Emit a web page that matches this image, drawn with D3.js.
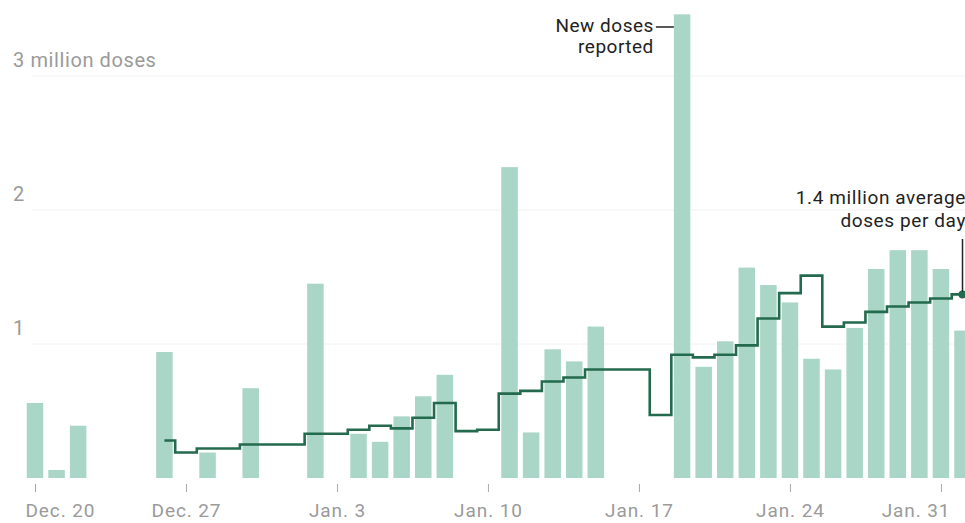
<!DOCTYPE html>
<html>
<head>
<meta charset="utf-8">
<script src="https://cdn.jsdelivr.net/npm/d3@7"></script>
<style>
  body { margin: 0; background: #fff; }
  svg { display: block; font-family: Roboto, "Noto Sans", sans-serif; }
</style>
</head>
<body>
<svg id="chart" width="965" height="523"></svg>
<script>
// daily dates shown on the chart
const days = [
  "2020-12-20", "2020-12-21", "2020-12-22", "2020-12-23", "2020-12-24", "2020-12-25", "2020-12-26",
  "2020-12-27", "2020-12-28", "2020-12-29", "2020-12-30", "2020-12-31", "2021-01-01", "2021-01-02",
  "2021-01-03", "2021-01-04", "2021-01-05", "2021-01-06", "2021-01-07", "2021-01-08", "2021-01-09",
  "2021-01-10", "2021-01-11", "2021-01-12", "2021-01-13", "2021-01-14", "2021-01-15", "2021-01-16",
  "2021-01-17", "2021-01-18", "2021-01-19", "2021-01-20", "2021-01-21", "2021-01-22", "2021-01-23",
  "2021-01-24", "2021-01-25", "2021-01-26", "2021-01-27", "2021-01-28", "2021-01-29", "2021-01-30",
  "2021-01-31", "2021-02-01"
];

// new doses reported each day, millions (null = nothing reported)
const newDoses = [
  0.56, 0.06, 0.39, null, null, null, 0.94,
  null, 0.19, null, 0.67, null, null, 1.45,
  null, 0.33, 0.27, 0.46, 0.61, 0.77, null,
  null, 2.32, 0.34, 0.96, 0.87, 1.13, null,
  null, null, 3.46, 0.83, 1.02, 1.57, 1.44,
  1.31, 0.89, 0.81, 1.12, 1.56, 1.70, 1.70,
  1.56, 1.10
];

// seven-day average, millions (starts Dec. 26)
const avgDoses = [
  null, null, null, null, null, null, 0.28,
  0.19, 0.22, 0.22, 0.25, 0.25, 0.25, 0.33,
  0.33, 0.36, 0.39, 0.37, 0.45, 0.56, 0.35,
  0.36, 0.63, 0.65, 0.72, 0.75, 0.81, 0.81,
  0.81, 0.47, 0.92, 0.90, 0.92, 0.99, 1.19,
  1.38, 1.51, 1.13, 1.16, 1.24, 1.28, 1.31,
  1.34, 1.37
];

// axis ticks
const tickDays = ["2020-12-20", "2020-12-27", "2021-01-03", "2021-01-10", "2021-01-17", "2021-01-24", "2021-01-31"];
const tickLabels = ["Dec. 20", "Dec. 27", "Jan. 3", "Jan. 10", "Jan. 17", "Jan. 24", "Jan. 31"];
const yTicks = [1, 2, 3];
const yTickLabels = ["1", "2", "3 million doses"];

const parse = d3.timeParse("%Y-%m-%d");
const data = days.map((d, i) => ({ date: parse(d), value: newDoses[i], avg: avgDoses[i] }));

const svg = d3.select("#chart");

// scales
const x = d3.scaleTime().domain([parse(days[0]), parse(days[days.length - 1])]).range([35, 962.5]);
const y = d3.scaleLinear().domain([0, 3]).range([478, 76]);
const barW = 16.5;

// gridlines + y labels
svg.append("g").selectAll("line")
  .data(yTicks)
  .join("line")
  .attr("x1", 32).attr("x2", 965)
  .attr("y1", d => y(d)).attr("y2", d => y(d))
  .attr("stroke", "#f2f2f2")
  .attr("stroke-width", 1);

svg.append("g").selectAll("text")
  .data(yTicks)
  .join("text")
  .attr("x", 13)
  .attr("y", d => y(d) - 9)
  .attr("fill", "#9a9a9a")
  .style("font-size", "20px")
  .style("letter-spacing", "0.6px")
  .text((d, i) => yTickLabels[i]);

// bars
svg.append("g").selectAll("rect")
  .data(data.filter(d => d.value != null))
  .join("rect")
  .attr("x", d => x(d.date) - barW / 2)
  .attr("y", d => y(d.value))
  .attr("width", barW)
  .attr("height", d => y(0) - y(d.value))
  .attr("fill", "#a9d6c6");

// average step line
const avgData = data.filter(d => d.avg != null);
const line = d3.line().x(d => x(d.date)).y(d => y(d.avg)).curve(d3.curveStep);
svg.append("path")
  .datum(avgData)
  .attr("fill", "none")
  .attr("stroke", "#236a4e")
  .attr("stroke-width", 2.6)
  .attr("d", line);

const last = avgData[avgData.length - 1];
svg.append("circle")
  .attr("cx", x(last.date))
  .attr("cy", y(last.avg))
  .attr("r", 4)
  .attr("fill", "#236a4e");

// x axis
const xAxis = svg.append("g")
  .attr("transform", "translate(0,484)")
  .call(d3.axisBottom(x)
    .tickValues(tickDays.map(parse))
    .tickSize(8)
    .tickPadding(12)
    .tickFormat((d, i) => tickLabels[i]));
xAxis.select(".domain").remove();
xAxis.selectAll(".tick line").attr("stroke", "#aaa");
xAxis.selectAll(".tick text")
  .attr("fill", "#9a9a9a")
  .style("font-size", "19px")
  .style("letter-spacing", "0.9px")
  .style("font-family", "Roboto, sans-serif")
  .attr("text-anchor", (d, i) => i === 0 ? "start" : i === tickDays.length - 1 ? "end" : "middle")
  .attr("dx", (d, i) => i === 0 ? -10 : i === tickDays.length - 1 ? 9 : 0);

// annotation: new doses
const peak = data.find(d => d.value === d3.max(newDoses));
const ann1 = svg.append("g").attr("fill", "#222").style("font-size", "19px").style("letter-spacing", "0.5px");
ann1.append("text").attr("x", x(peak.date) - barW / 2 - 20).attr("y", 32).attr("text-anchor", "end").text("New doses");
ann1.append("text").attr("x", x(peak.date) - barW / 2 - 20).attr("y", 53).attr("text-anchor", "end").text("reported");
svg.append("line")
  .attr("x1", x(peak.date) - barW / 2 - 18).attr("x2", x(peak.date) - barW / 2)
  .attr("y1", 27).attr("y2", 27)
  .attr("stroke", "#222").attr("stroke-width", 1.5);

// annotation: average
const ann2 = svg.append("g").attr("fill", "#222").style("font-size", "19px").style("letter-spacing", "0.6px");
ann2.append("text").attr("x", 966).attr("y", 204).attr("text-anchor", "end").text("1.4 million average");
ann2.append("text").attr("x", 966).attr("y", 227).attr("text-anchor", "end").text("doses per day");
svg.append("line")
  .attr("x1", x(last.date)).attr("x2", x(last.date))
  .attr("y1", 239).attr("y2", y(last.avg) - 3)
  .attr("stroke", "#222").attr("stroke-width", 1.5);
</script>
</body>
</html>
